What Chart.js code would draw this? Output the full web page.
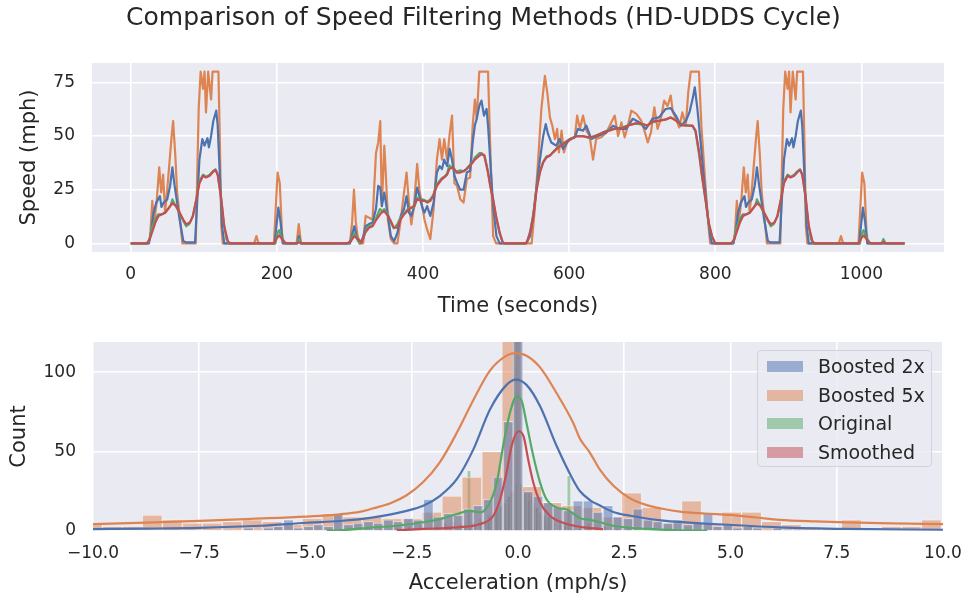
<!DOCTYPE html>
<html>
<head>
<meta charset="utf-8">
<script src="https://cdn.jsdelivr.net/npm/chart.js@4.4.0/dist/chart.umd.min.js"></script>
<style>
  body { margin: 0; background: #fff; }
  #wrap { position: relative; width: 967px; height: 601px; font-family: 'DejaVu Sans', sans-serif; color: #262626; }
  #title { position: absolute; left: 0; top: 2px; width: 967px; text-align: center; font-size: 25px; line-height: 30px; z-index: 2; }
  #speedChart { position: absolute; left: 0; top: 0; }
  #accelChart { position: absolute; left: 0; top: 300px; }
  #legend { position: absolute; left: 757px; top: 350px; width: 175px; height: 117px; box-sizing: border-box;
            border: 1px solid #d3d3dc; border-radius: 4px; background: rgba(234,234,242,0.8); z-index: 2; padding-top: 1px; }
  .row { position: relative; height: 28.5px; line-height: 28.5px; font-size: 19px; padding-left: 60px; }
  .sw { position: absolute; left: 9px; top: 9px; width: 36px; height: 11px; }
</style>
</head>
<body>
<div id="wrap">
  <div id="title">Comparison of Speed Filtering Methods (HD-UDDS Cycle)</div>
  <canvas id="speedChart" width="967" height="330"></canvas>
  <canvas id="accelChart" width="967" height="301"></canvas>
  <div id="legend">
    <div class="row"><span class="sw" style="background:rgba(76,114,176,0.5)"></span>Boosted 2x</div>
    <div class="row"><span class="sw" style="background:rgba(221,132,82,0.5)"></span>Boosted 5x</div>
    <div class="row"><span class="sw" style="background:rgba(85,168,104,0.5)"></span>Original</div>
    <div class="row"><span class="sw" style="background:rgba(196,78,82,0.5)"></span>Smoothed</div>
  </div>
</div>
<script>
// ---- data: speed traces, [time s, speed mph] ----
const boosted5x = [[0,0],[24,0],[26.5,3],[29.5,19.8],[32,9.7],[35.4,19],[39,35.4],[41.7,23.7],[44.4,32],[47,14.3],[50,25],[52.6,36],[56,50],[58,57],[61,41],[63.5,23.7],[67,12.8],[70.7,0],[89,0],[90,16],[93,62.6],[95.7,80],[99,72],[101,80],[103,61],[106,80],[110,67],[112,80],[120,80],[122,47],[124,8],[126,0],[169,0],[172,3.4],[175,0],[196,0],[199,20],[201,33],[204,28],[207,5],[209,0],[227,0],[230,9],[233,0],
  [300,0],[303,10],[305.5,25],[308,10],[310.5,3.4],[314,0],[318,0],[321.5,12.8],[326,12],[331,11],[335.6,42],[338.7,47],[341.5,57],[343.7,17.4],[347,45.5],[349,33],[352,11],[356,2],[360.5,0],[365,0],[369.5,11],[374,23.7],[377.5,33],[380.7,19],[384,8.9],[387.6,17.4],[392,37],[395,25],[399,17.4],[402,11],[405.6,6.5],[410,2],[414.5,16],[419,39],[422.7,48.6],[426,39],[429,48.6],[433,39],[436.5,51],[439.7,59.5],[443,28],[446.5,26.8],[451,20.6],[455.5,19],[460,30],[464.5,30.7],[468,55],[471,67],[473.5,58],[477,80],[489,80],[492.5,39],[496,3.4],[500,0],
  [548.7,0],[553,16],[557.6,39],[562,62.6],[566.8,78],[570,70.4],[573.7,58.7],[577,54.8],[580.5,48.6],[583.6,53.3],[586,42.4],[589.6,52.5],[592.8,42.4],[596.4,46.3],[601,48.6],[607.7,49.4],[611,59.5],[614.7,53.3],[619,59.5],[623.6,52.5],[628,50],[632.7,39],[637,48.6],[644,49.4],[651,51.7],[657.8,56.4],[662.4,59.5],[667,50],[671.5,56.4],[676,49.4],[680.5,54.8],[685,61.8],[692,60.3],[698.6,57.2],[703,52.5],[707.6,47],[712,51.7],[716.6,63.4],[721,53.3],[725.6,58],[730,66.5],[734.6,64],[739,68.8],[742,61],[747,57.2],[750.6,54],[755,61],[759.6,54.8],[763,70.4],[766.4,80],[777.6,80],[781,54.8],[785.6,31.5],[790,11],[793,0],
  [824,0],[826.5,3],[829.5,19.8],[832,9.7],[835.4,19],[839,35.4],[841.7,23.7],[844.4,32],[847,14.3],[850,25],[852.6,36],[856,50],[858,57],[861,41],[863.5,23.7],[867,12.8],[870.7,0],[889,0],[890,16],[893,62.6],[895.7,80],[899,72],[901,80],[903,61],[906,80],[910,67],[912,80],[920,80],[922,47],[924,8],[926,0],[969,0],[972,3.4],[975,0],[996,0],[999,20],[1001,33],[1004,28],[1007,5],[1009,0],[1059,0]];

const boosted2x = [[0,0],[25,0],[28.5,7],[31,14],[35,19],[40,22],[42,17],[45,19],[50,20.5],[54,27],[57,35.4],[60,27],[63.5,19],[67,11],[72,1],[76,0.5],[88,0.5],[90,13],[94,39],[98,48.6],[101,45.5],[105,49],[107,44.7],[110,50],[113,57],[117,61.8],[119,55],[122,31.5],[125,8],[128,0],[197,0],[200,10],[202,16.7],[205,10],[208,0],[228,0],[230,3.4],[233,0],
  [300,0],[303,4],[306,8],[310,2],[314,0],[318,3],[321.5,8],[326,9],[331,9.7],[335.6,16],[338.7,26.8],[341.5,26],[343.7,17.4],[347,23.7],[352,12.8],[356,3.4],[360.5,1],[365,5],[369.5,12.8],[374,16],[377.5,22],[380.7,14.3],[384,12.8],[387.6,16.7],[392,26],[395,22],[399,16.7],[402,14.3],[405.6,17.4],[410,12.8],[414.5,19],[419,33],[422.7,36],[426,34.6],[429,39],[433,36],[436.5,44],[439.7,39],[443,31.5],[446.5,28.3],[451,25],[455.5,25],[460,33],[464.5,33.8],[468,47],[471,55],[473.5,58],[477,64],[480,66.5],[483.5,59.5],[487,62.6],[489,55],[492.5,36],[496,17.4],[500.5,3.4],[505,0],
  [541,0],[546.5,3.4],[551,12.8],[555.5,26.8],[560,39],[564.5,50],[568,55.6],[571,51],[575.5,47],[582.3,45.5],[587,48.6],[591.5,44],[598.6,47.8],[607.7,49.4],[612,53.3],[619,52.5],[623.5,54.8],[630.4,48.6],[639.5,50],[650.8,51.7],[660,54.8],[669,53.3],[678,53.3],[687,58],[696,56.4],[705,53.3],[714,58],[723,58.7],[732,62.6],[739,63],[746,59.5],[753,54.8],[760,57.2],[764.6,61],[769,67.3],[772,72.7],[775.5,62.6],[780,47],[784,31.5],[788.7,16],[793,3.4],[795.5,0],
  [825,0],[828.5,7],[831,14],[835,19],[840,22],[842,17],[845,19],[850,20.5],[854,27],[857,35.4],[860,27],[863.5,19],[867,11],[872,1],[876,0.5],[888,0.5],[890,13],[894,39],[898,48.6],[901,45.5],[905,49],[907,44.7],[910,50],[913,57],[917,61.8],[919,55],[922,31.5],[925,8],[928,0],[997,0],[1000,10],[1002,16.7],[1005,10],[1008,0],[1059,0]];

const original = [[0,0],[22,0],[25,1],[28.5,6.5],[33,11],[37.6,13.5],[42,13.5],[47,14.3],[51,16],[55,18],[57,20.5],[60,18.5],[62.6,16.7],[67,14],[72,10.5],[76,8],[80,9],[85,12.5],[90,21],[94,29],[99,32],[103,31],[108,32],[112,33.5],[116,34.5],[119,32],[123,23],[127,10],[131,2],[134,0],[198,0],[201,5],[203,6.2],[206,3],[209,1.5],[212,0],[228,0],[230,2],[233,0],
  [298,0],[302,2],[306,4.7],[310,2],[313,0],[318,2],[322,6.5],[326,8],[331,8.6],[336,12],[341,16],[344,15],[347,16],[352,13.5],[356,9.7],[360,7],[365,8.9],[369,12],[374,14],[381,16.7],[385,16.5],[388,17],[392,21.3],[396,20],[399,20.6],[403,20],[406,19.5],[410,20.5],[414,22.5],[419,27.6],[426,30.5],[429,31],[433,32.5],[436,36.4],[440,35],[443,34],[446,33.5],[451,34],[456,33.5],[460,35],[464,36.5],[468,38],[471,40],[477,42],[480,42],[484,41],[487,36.5],[489,33],[492,27],[496,20],[500,12],[505,4.5],[509,0.5],[512,0],
  [540,0],[543,1],[547,6],[551,14],[555.5,26],[560,33.5],[564.5,38],[569,40.5],[574,41],[578,42.5],[585,45],[592,46.5],[601,48.5],[610,50],[619,50],[628,49],[637,50.3],[646,51.5],[655,53],[664,53.3],[673,54],[682,55.3],[692,55.8],[701,55.3],[707,55],[714,56.5],[723,57],[732,57.8],[739,58.5],[746,57.5],[755,55.3],[769,54.6],[773,52],[778,41],[782,30.5],[787,19.5],[791,9],[795.5,3],[800,0],
  [822,0],[825,1],[828.5,6.5],[833,11],[837.6,13.5],[842,13.5],[847,14.3],[851,16],[855,18],[857,20.5],[860,18.5],[862.6,16.7],[867,14],[872,10.5],[876,8],[880,9],[885,12.5],[890,21],[894,29],[899,32],[903,31],[908,32],[912,33.5],[916,34.5],[919,32],[923,23],[927,10],[931,2],[934,0],[998,0],[1001,5],[1003,6.2],[1006,3],[1009,1.5],[1012,0],[1028,0],[1030,2],[1033,0],[1059,0]];

const smoothed = [[0,0],[22,0],[26,2],[30,6],[34,10],[38,12.8],[42,13.5],[47,14.3],[51,16],[57,18.7],[62,17.5],[67,14.3],[72,11],[76,8.9],[81,9.7],[85,12.8],[90,20.6],[94,28],[99,31.5],[103,30.7],[108,31.5],[112,33],[116,34.3],[119,32],[124,20.6],[128,8],[133,1],[136,0],[196,0],[200,2.5],[203,3.7],[206,2.5],[210,0.5],[214,0],[226,0],[230,0.5],[234,0],
  [296,0],[301,1],[306,3.4],[311,2],[316,0.5],[321,5],[326,7.3],[331,8],[336,11],[343,14.3],[347,15],[352,12.8],[356,10.4],[360,7.3],[365,7.3],[369,11],[374,13.5],[381,16],[384,16.7],[388,17.4],[392,20.6],[399,19.8],[402,19.8],[406,19],[410,19.8],[414,22],[419,26.8],[426,30],[429,30.7],[433,32],[436,34.6],[440,35.4],[443,34.6],[446,33],[451,33],[456,33.8],[460,34.6],[464,36],[468,37.7],[471,39],[477,40.8],[480,41.6],[484,40.8],[487,36],[489,33],[492,26.8],[496,20.6],[500,12.8],[505,5],[509,0.6],[512,0],
  [540,0],[542,0.5],[546.5,5],[551,12.8],[555.5,25],[560,33],[564.5,37.7],[569,40],[573.5,40.8],[578,42.4],[585,44.7],[592,46.3],[601,48.6],[610,49.8],[619,49.8],[628,49.4],[637,50],[646,51.7],[655,52.5],[664,53.6],[673,53.6],[682,55],[692,56],[701,55.6],[707,54.8],[714,56.7],[723,57.2],[732,57.6],[739,58.7],[746,57.2],[755,55],[769,54.8],[773,52.5],[778,42.4],[782,31.5],[786.5,20.6],[791,9.7],[795.5,3.4],[800,0],
  [822,0],[826,2],[830,6],[834,10],[838,12.8],[842,13.5],[847,14.3],[851,16],[857,18.7],[862,17.5],[867,14.3],[872,11],[876,8.9],[881,9.7],[885,12.8],[890,20.6],[894,28],[899,31.5],[903,30.7],[908,31.5],[912,33],[916,34.3],[919,32],[924,20.6],[928,8],[933,1],[936,0],[996,0],[1000,2.5],[1003,3.7],[1006,2.5],[1010,0.5],[1014,0],[1026,0],[1030,0.7],[1034,0],[1059,0]];

const timeTicks = [0, 200, 400, 600, 800, 1000];
const speedTicks = [0, 25, 50, 75];

// ---- data: acceleration histograms (bin centre, count) ----
const bins5x = [-10.015,-9.545,-9.075,-8.605,-8.135,-7.665,-7.195,-6.725,-6.255,-5.785,-5.315,-4.845,-4.375,-3.905,-3.435,-2.965,-2.495,-2.025,-1.555,-1.085,-0.615,-0.145,0.325,0.795,1.265,1.735,2.205,2.675,3.145,3.615,4.085,4.555,5.025,5.495,5.965,6.435,6.905,7.375,7.845,8.315,8.785,9.255,9.725];
const counts5x = [4,3,3,10,7,5,5,6,7,6,4,8,11,9,9,8,8,12,22,34,50,300,28,18,16,15,9,24,15,5,19,4,12,12,6,4,2,2,7,2,3,3,7];

const bins2x = [-6.81,-6.58,-6.34,-6.11,-5.87,-5.64,-5.40,-5.17,-4.93,-4.70,-4.46,-4.23,-3.99,-3.76,-3.52,-3.29,-3.05,-2.82,-2.58,-2.35,-2.11,-1.88,-1.64,-1.41,-1.17,-0.94,-0.70,-0.47,-0.23,0.00,0.24,0.47,0.71,0.94,1.18,1.41,1.65,1.88,2.12,2.35,2.59,2.82,3.06,3.29,3.53,3.76,4.00,4.23,4.47,4.70,4.94,5.17,5.41,5.64,5.88,6.11,6.35,6.58];
const counts2x = [1,0,2,1,2,3,7,2,3,4,3,11,4,5,6,5,7,6,8,7,20,9,11,10,14,16,20,34,69,300,25,22,18,15,13,19,19,12,16,9,8,14,7,6,5,7,4,5,11,3,4,2,3,2,1,2,1,1];

const binsOrig = [-4.443,-3.785,-3.221,-2.845,-2.563,-2.281,-1.999,-1.905,-1.717,-1.529,-1.341,-1.247,-1.153,-1.059,-0.871,-0.683,-0.589,-0.495,-0.401,-0.307,-0.213,-0.119,-0.025,0.069,0.163,0.257,0.351,0.445,0.539,0.633,0.727,0.821,1.009,1.103,1.197,1.291,1.479,1.667,1.855,2.043,2.325,2.607,2.983,3.359,4.017,4.393];
const countsOrig = [1,1,2,2,3,4,10,3,5,6,5,4,38,6,8,10,9,14,16,18,22,25,300,30,24,20,16,15,12,10,9,7,7,5,35,5,4,5,3,3,2,2,1,1,1,1];

const binsSmooth = [-2.80,-2.50,-2.20,-1.96,-1.78,-1.60,-1.42,-1.24,-1.12,-1.00,-0.88,-0.82,-0.76,-0.70,-0.64,-0.58,-0.52,-0.46,-0.40,-0.34,-0.28,-0.22,-0.16,-0.10,-0.04,0.02,0.08,0.14,0.20,0.26,0.32,0.38,0.44,0.50,0.56,0.62,0.68,0.74,0.86,0.98,1.10,1.28,1.46,1.70,1.94];
const countsSmooth = [1,1,2,1,2,2,3,2,3,4,4,5,6,5,7,8,10,12,15,18,20,22,24,26,30,300,28,26,25,24,22,18,15,12,10,8,7,6,5,4,3,2,2,1,1];

const binWidth5x = 0.47, binWidth2x = 0.235, binWidthOrig = 0.094, binWidthSmooth = 0.06;

// ---- data: density curves (acceleration, scaled count) ----
const kde5x = [[-10,4.3],[-8.75,5.3],[-7.5,6.4],[-6.25,7.7],[-5,9.1],[-4.2,10.5],[-3.7,12.2],[-3.4,14.3],[-3,17.5],[-2.62,22.5],[-2.23,30.8],[-1.84,43.2],[-1.44,61.8],[-1.05,82.5],[-0.66,101],[-0.27,110.4],[-0.07,112],[0.2,110.4],[0.52,103],[0.91,86.7],[1.3,68],[1.46,58],[1.69,49.4],[1.93,38.5],[2.24,28.7],[2.64,20.5],[3.03,16.3],[3.4,14],[3.81,12.2],[4.4,11],[4.99,10.1],[5.6,8.5],[6.16,7],[7,6],[7.73,5.4],[8.8,4.8],[10,4.3]];
const kde2x = [[-10,1.2],[-8.75,1.5],[-7.5,2],[-6.07,3.3],[-4.97,5.2],[-4.19,6.3],[-3.4,8.6],[-2.62,12.7],[-2.23,15.9],[-1.84,22],[-1.44,32.6],[-1.05,51.4],[-0.66,76.5],[-0.27,92],[-0.05,95.3],[0.2,92],[0.52,78.6],[0.91,53.5],[1.3,32],[1.46,25],[1.69,19.5],[1.93,16],[2.24,12],[2.64,9.6],[3.42,6.5],[4.6,4.4],[6.16,2.3],[7.73,1.3],[10,0.8]];
const kdeOrig = [[-4.5,0.2],[-4.19,0.4],[-3.4,2.3],[-2.85,3.3],[-2.23,5.5],[-1.84,7.5],[-1.44,10.7],[-1.13,12.7],[-0.89,11.7],[-0.66,18],[-0.5,30.5],[-0.35,53.5],[-0.19,74.4],[-0.03,84.8],[0.09,81.7],[0.2,68],[0.36,47.2],[0.52,30.5],[0.67,20],[0.91,14.8],[1.15,13.5],[1.3,11],[1.46,8],[1.69,7],[1.93,5.5],[2.24,3.3],[3.03,1.3],[3.81,0.4],[4.45,0.1]];
const kdeSmooth = [[-2.85,0.4],[-2.23,1.3],[-1.44,2.3],[-0.89,4.4],[-0.58,9.6],[-0.42,20],[-0.27,36.8],[-0.15,53.5],[0.01,62.8],[0.13,59.7],[0.24,45],[0.36,30.5],[0.52,18],[0.75,9.6],[1.15,4.4],[1.54,2.3],[1.93,1.3],[2.0,1.1]];

const accelTicks = [-10, -7.5, -5, -2.5, 0, 2.5, 5, 7.5, 10];
const countTicks = [0, 50, 100];

// ---- styling ----
const FONT = "'DejaVu Sans', sans-serif";
const INK = '#262626';
const C = { blue: '76,114,176', orange: '221,132,82', green: '85,168,104', red: '196,78,82' };
Chart.defaults.font.family = FONT;
Chart.defaults.color = INK;

const plotBg = {
  id: 'plotBg',
  beforeDraw(chart) {
    const { ctx, chartArea: a } = chart;
    ctx.save();
    ctx.fillStyle = '#EAEAF2';
    ctx.fillRect(a.left, a.top, a.right - a.left, a.bottom - a.top);
    ctx.restore();
  }
};

// fixed axis box size; edge tick labels must not shrink the plot area
function fixBox(prop, size) {
  return s => { s[prop] = size; s.paddingLeft = 0; s.paddingRight = 0; s.paddingTop = 0; s.paddingBottom = 0; };
}

function axis(ticksArr, fmt, pad, extra) {
  return Object.assign({
    type: 'linear',
    afterBuildTicks: s => { s.ticks = ticksArr.map(v => ({ value: v })); },
    grid: { color: '#ffffff', lineWidth: 1.6, drawTicks: false, offset: false },
    border: { display: false },
    ticks: { color: INK, font: { size: 17 }, maxRotation: 0, padding: pad, callback: fmt }
  }, extra);
}
const pts = arr => arr.map(p => ({ x: p[0], y: p[1] }));
const minus = s => s.replace('-', '\u2212');

function speedLine(label, arr, rgb, order) {
  return { label, data: pts(arr), borderColor: `rgb(${rgb})`, borderWidth: 2.2, pointRadius: 0,
           tension: 0, borderJoinStyle: 'round', order, clip: 0 };
}

new Chart(document.getElementById('speedChart'), {
  type: 'line',
  data: { datasets: [
    speedLine('Smoothed', smoothed, C.red, 0),
    speedLine('Original', original, C.green, 1),
    speedLine('Boosted 2x', boosted2x, C.blue, 2),
    speedLine('Boosted 5x', boosted5x, C.orange, 3)
  ]},
  options: {
    responsive: false, animation: false, events: [],
    layout: { padding: { left: 0, right: 23, top: 63, bottom: 0 } },
    plugins: { legend: { display: false }, tooltip: { enabled: false } },
    scales: {
      x: axis(timeTicks, v => String(v), 12, { min: -53, max: 1113,
        afterFit: fixBox('height', 78),
        title: { display: true, text: 'Time (seconds)', color: INK, font: { size: 21 }, padding: { top: 0, bottom: 11 } } }),
      y: axis(speedTicks, v => String(v), 17, { min: -4, max: 84,
        afterFit: fixBox('width', 92),
        title: { display: true, text: 'Speed (mph)', color: INK, font: { size: 21 }, padding: { top: 17, bottom: 0 } } })
    }
  },
  plugins: [plotBg]
});

function histBars(label, bins, counts, rgb, width, order) {
  return { type: 'bar', label, data: bins.map((b, i) => ({ x: b, y: counts[i] })),
           backgroundColor: `rgba(${rgb},0.5)`, borderColor: 'rgba(255,255,255,0.55)', borderWidth: 0.8,
           grouped: false, binWidth: width, order, clip: 0 };
}
function kdeLine(label, arr, rgb, order) {
  return { type: 'line', label, data: pts(arr), borderColor: `rgb(${rgb})`, borderWidth: 2.2, pointRadius: 0,
           cubicInterpolationMode: 'monotone', order, clip: 0 };
}

const accelChart = new Chart(document.getElementById('accelChart'), {
  type: 'bar',
  data: { datasets: [
    kdeLine('Boosted 2x kde', kde2x, C.blue, 0),
    kdeLine('Boosted 5x kde', kde5x, C.orange, 1),
    kdeLine('Original kde', kdeOrig, C.green, 2),
    kdeLine('Smoothed kde', kdeSmooth, C.red, 3),
    histBars('Boosted 2x', bins2x, counts2x, C.blue, binWidth2x, 4),
    histBars('Boosted 5x', bins5x, counts5x, C.orange, binWidth5x, 5),
    histBars('Original', binsOrig, countsOrig, C.green, binWidthOrig, 6),
    histBars('Smoothed', binsSmooth, countsSmooth, C.red, binWidthSmooth, 7)
  ]},
  options: {
    responsive: false, animation: false, events: [],
    layout: { padding: { left: 0, right: 24, top: 42, bottom: 0 } },
    plugins: { legend: { display: false }, tooltip: { enabled: false } },
    scales: {
      x: axis(accelTicks, v => minus(v.toFixed(1)), 12, { min: -10, max: 10, offset: false,
        afterFit: fixBox('height', 70),
        title: { display: true, text: 'Acceleration (mph/s)', color: INK, font: { size: 21 }, padding: { top: 0, bottom: 5 } } }),
      y: axis(countTicks, v => String(v), 17, { min: 0, max: 119,
        afterFit: fixBox('width', 93),
        title: { display: true, text: 'Count', color: INK, font: { size: 21 }, padding: { top: 7, bottom: 0 } } })
    }
  },
  plugins: [plotBg]
});

// bar widths follow each series' bin width on the x scale
const xs = accelChart.scales.x;
const pxPerUnit = xs.getPixelForValue(1) - xs.getPixelForValue(0);
accelChart.data.datasets.forEach(d => { if (d.binWidth) d.barThickness = d.binWidth * pxPerUnit; });
accelChart.update('none');
</script>
</body>
</html>
